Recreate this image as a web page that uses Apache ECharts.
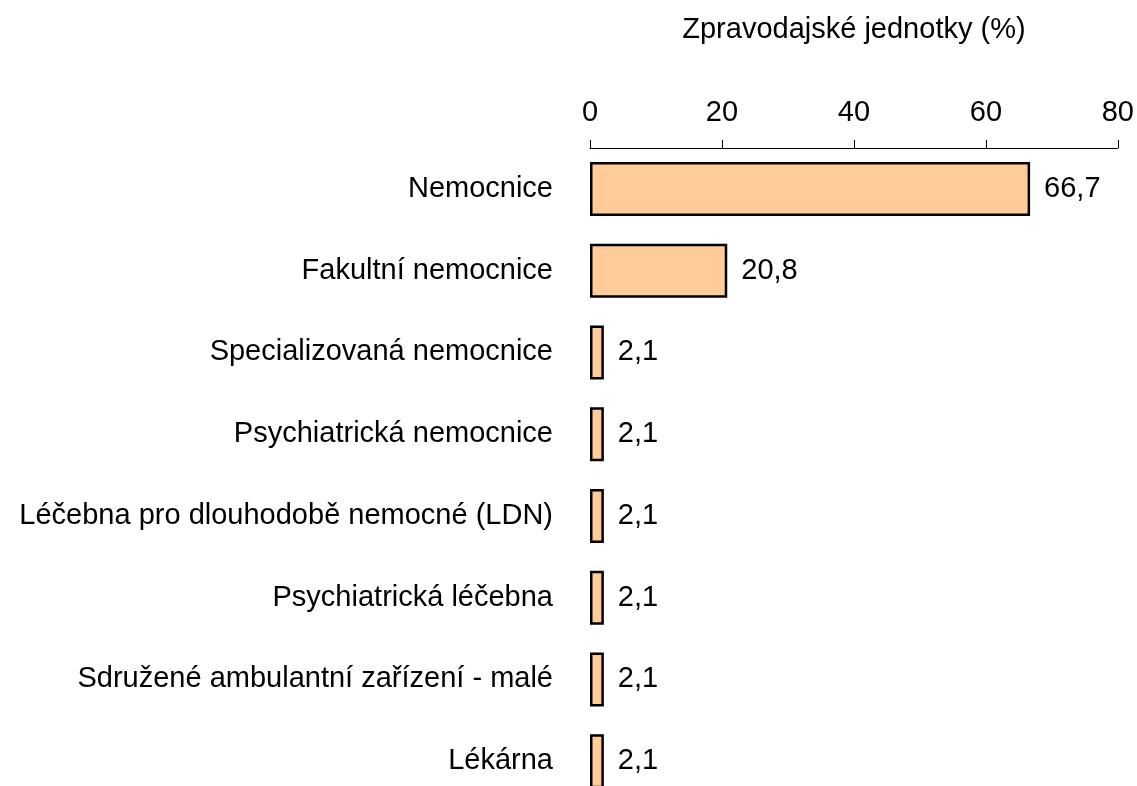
<!DOCTYPE html>
<html>
<head>
<meta charset="utf-8">
<script src="https://cdn.jsdelivr.net/npm/echarts@6/dist/echarts.min.js"></script>
<style>
html,body{margin:0;padding:0;background:#fff;overflow:hidden;}
#chart{width:1137px;height:820px;}
</style>
</head>
<body>
<div id="chart"></div>
<script>
const categories = [
  "Nemocnice",
  "Fakultní nemocnice",
  "Specializovaná nemocnice",
  "Psychiatrická nemocnice",
  "Léčebna pro dlouhodobě nemocné (LDN)",
  "Psychiatrická léčebna",
  "Sdružené ambulantní zařízení - malé",
  "Lékárna"
];
const values = [66.7, 20.8, 2.1, 2.1, 2.1, 2.1, 2.1, 2.1];
const axisTitle = "Zpravodajské jednotky (%)";
const xMin = 0, xMax = 80, xStep = 20;

const font = "Liberation Sans, Arial, sans-serif";
const chart = echarts.init(document.getElementById('chart'));
chart.setOption({
  animation: false,
  grid: {left: 590, right: 19, top: 148, bottom: 18, containLabel: false},
  xAxis: {
    type: 'value', position: 'top', min: xMin, max: xMax, interval: xStep,
    name: axisTitle, nameLocation: 'middle', nameGap: 104,
    nameTextStyle: {fontFamily: font, fontSize: 29, color: '#000'},
    axisLine: {show: true, lineStyle: {color: '#000', width: 1}},
    axisTick: {show: true, length: 8, lineStyle: {color: '#000'}},
    axisLabel: {fontFamily: font, fontSize: 29, color: '#000', margin: 21},
    splitLine: {show: false}
  },
  yAxis: {
    type: 'category', data: categories, inverse: true,
    axisLine: {show: false}, axisTick: {show: false},
    axisLabel: {fontFamily: font, fontSize: 29, color: '#000', margin: 37}
  },
  series: [{
    type: 'bar', data: values, barWidth: 54,
    itemStyle: {color: '#FFCC99', borderColor: '#000', borderWidth: 2.5},
    label: {
      show: true, position: 'right', distance: 14,
      fontFamily: font, fontSize: 29, color: '#000',
      formatter: p => String(p.value).replace('.', ',')
    }
  }]
});
</script>
</body>
</html>
